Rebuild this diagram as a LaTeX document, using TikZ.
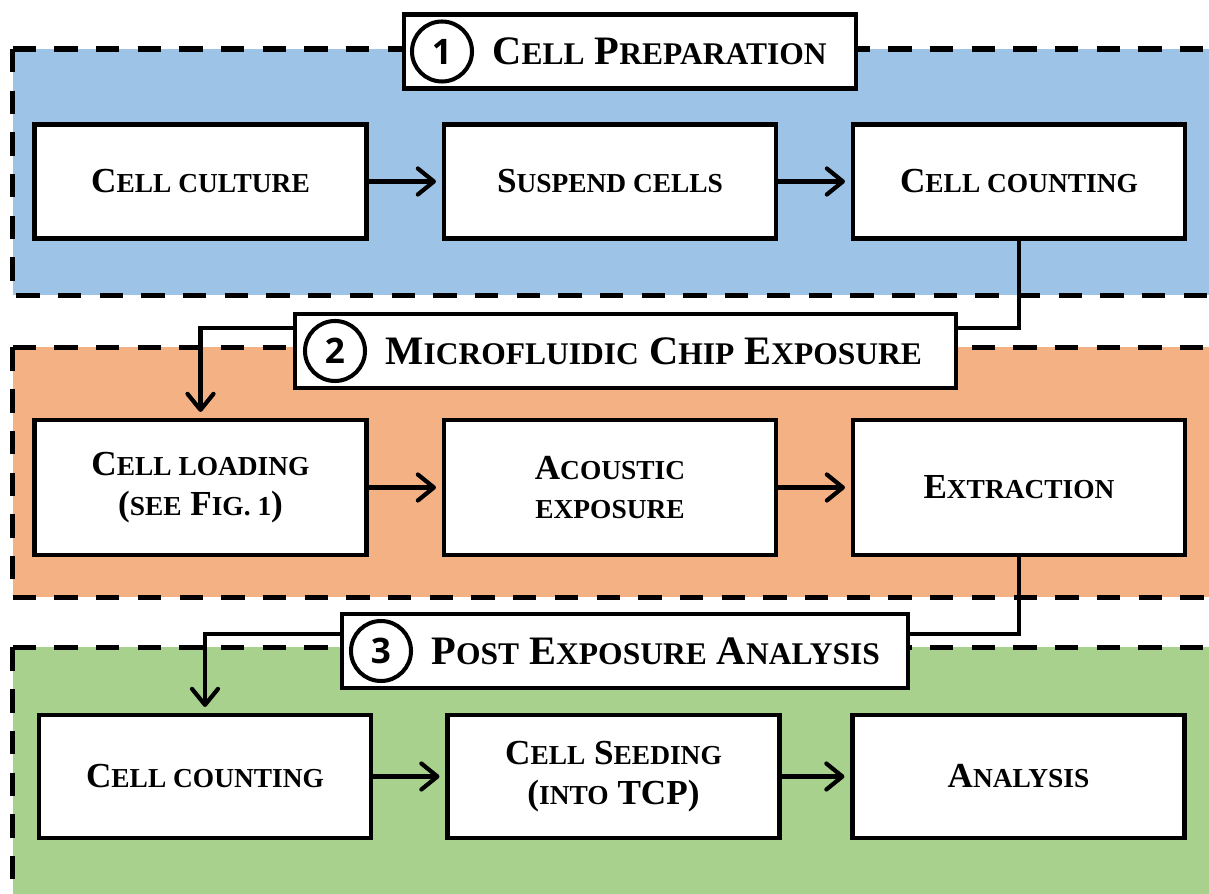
\documentclass[tikz,border=0pt]{standalone}
\usepackage{fontspec}
\setmainfont{Liberation Serif}
\newfontfamily\numfont{Open Sans}
\usepackage{graphicx}
\usetikzlibrary{arrows.meta,positioning}

\definecolor{prepblue}{HTML}{9DC3E6}
\definecolor{chiporange}{HTML}{F4B183}
\definecolor{postgreen}{HTML}{A9D18E}

% fake small caps: lower-case part set as smaller capitals
\newcommand\lc[1]{\scalebox{0.78}{\MakeUppercase{#1}}}

\tikzset{
  stepbox/.style={draw, line width=2.3pt, fill=white, minimum width=6.64cm,
    align=center, font=\bfseries\fontsize{20}{22.5}\selectfont},
  titlebox/.style={draw, line width=2.3pt, fill=white, minimum height=1.48cm},
  numcirc/.style={circle, draw, line width=2.3pt, minimum size=1.2cm, inner sep=0pt,
    font=\numfont\bfseries\fontsize{20}{20}\selectfont},
  titletext/.style={font=\bfseries\fontsize{23}{23}\selectfont, inner sep=0pt},
  panelline/.style={line width=3.2pt, dash pattern=on 0.467cm off 0.367cm},
  link/.style={line width=2.3pt},
  flow/.style={line width=2.4pt, shorten >=0.12cm,
    -{Straight Barb[length=0.32cm,width=0.52cm,round]}},
}

\begin{document}
\begin{tikzpicture}
  \useasboundingbox (0,0) rectangle (24.18,17.86);

  % panels
  \begin{scope}
    \clip (0,0) rectangle (24.18,17.86);
    \fill[prepblue] (0.25,11.95) rectangle (25,16.88);
    \fill[chiporange] (0.25,5.91) rectangle (25,10.91);
    \fill[postgreen] (0.25,-1) rectangle (25,4.91);
    \draw[panelline] (0.25,16.88) -- (25,16.88);
    \draw[panelline] (0.25,16.88) -- (0.25,11.95) -- (25,11.95);
    \draw[panelline] (0.25,10.91) -- (25,10.91);
    \draw[panelline] (0.25,10.91) -- (0.25,5.91) -- (25,5.91);
    \draw[panelline] (0.25,4.91) -- (25,4.91);
    \draw[panelline] (0.25,4.91) -- (0.25,-1);
  \end{scope}

  % 1: cell preparation
  \node[stepbox, minimum height=2.28cm] (s1) at (4.01,14.23) {C\lc{ell culture}};
  \node[stepbox, minimum height=2.28cm] (s2) at (12.2,14.23) {S\lc{uspend cells}};
  \node[stepbox, minimum height=2.28cm] (s3) at (20.38,14.23) {C\lc{ell counting}};

  % 2: chip exposure
  \node[stepbox, minimum height=2.7cm] (c1) at (4.01,8.11) {C\lc{ell loading}\\(\lc{see} F\lc{ig. 1})};
  \node[stepbox, minimum height=2.7cm] (c2) at (12.2,8.11) {A\lc{coustic}\\\lc{exposure}};
  \node[stepbox, minimum height=2.7cm] (c3) at (20.38,8.11) {E\lc{xtraction}};

  % 3: post exposure
  \node[stepbox, minimum height=2.46cm] (a1) at (4.1,2.33) {C\lc{ell counting}};
  \node[stepbox, minimum height=2.46cm] (a2) at (12.27,2.33) {C\lc{ell} S\lc{eeding}\\(\lc{into} TCP)};
  \node[stepbox, minimum height=2.46cm] (a3) at (20.37,2.33) {A\lc{nalysis}};

  % section titles
  \node[titlebox, minimum width=9.04cm] (t1) at (12.6,16.83) {};
  \node[numcirc, right=0.16cm of t1.west] (n1) {1};
  \node[titletext, right=0.36cm of n1] (h1) {C\lc{ell} P\lc{reparation}};

  \node[titlebox, minimum width=13.22cm] (t2) at (12.51,10.84) {};
  \node[numcirc, right=0.2cm of t2.west] (n2) {2};
  \node[titletext, right=0.36cm of n2] (h2) {M\lc{icrofluidic} C\lc{hip} E\lc{xposure}};

  \node[titlebox, minimum width=11.32cm] (t3) at (12.5,4.84) {};
  \node[numcirc, right=0.18cm of t3.west] (n3) {3};
  \node[titletext, right=0.36cm of n3] (h3) {P\lc{ost} E\lc{xposure} A\lc{nalysis}};

  % arrows inside the panels
  \draw[flow] (s1.east) -- (s2.west);
  \draw[flow] (s2.east) -- (s3.west);
  \draw[flow] (c1.east) -- (c2.west);
  \draw[flow] (c2.east) -- (c3.west);
  \draw[flow] (a1.east) -- (a2.west);
  \draw[flow] (a2.east) -- (a3.west);

  % links between panels, passing the title boxes
  \coordinate (j1) at (20.38,11.3);
  \coordinate (k1) at (4.01,11.3);
  \draw[link] (s3.south) -- (j1) -- (t2.east |- j1);
  \draw[flow] (t2.west |- j1) -- (k1) -- (c1.north);

  \coordinate (j2) at (20.38,5.18);
  \coordinate (k2) at (4.1,5.18);
  \draw[link] (c3.south) -- (j2) -- (t3.east |- j2);
  \draw[flow] (t3.west |- j2) -- (k2) -- (a1.north);
\end{tikzpicture}
\end{document}
